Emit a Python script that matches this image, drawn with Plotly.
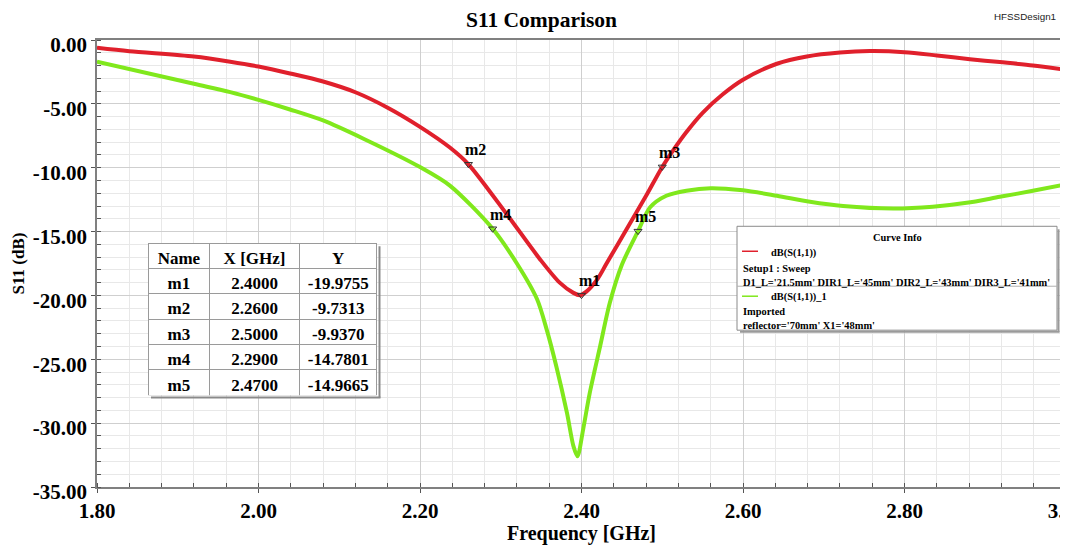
import plotly.graph_objects as go

# ---------------- data ----------------
red_freq = [1.80, 1.84, 1.92, 1.965, 2.00, 2.039, 2.08, 2.12, 2.16, 2.20, 2.237, 2.26, 2.307,
            2.349, 2.373, 2.39, 2.398, 2.406, 2.42, 2.431, 2.456, 2.48, 2.50, 2.515, 2.53,
            2.55, 2.575, 2.60, 2.642, 2.679, 2.72, 2.757, 2.80, 2.84, 2.881, 2.918, 2.959,
            3.00]
red_s11 = [-0.61, -0.88, -1.30, -1.70, -2.08, -2.62, -3.25, -4.09, -5.30, -6.80, -8.42, -9.73,
           -13.6, -17.2, -19.0, -19.8, -19.98, -19.7, -18.7, -17.5, -14.8, -12.2, -9.94, -8.5,
           -7.2, -5.7, -4.25, -3.11, -1.86, -1.29, -0.98, -0.87, -0.95, -1.21, -1.50, -1.73,
           -1.99, -2.33]

green_freq = [1.80, 1.92, 1.965, 2.00, 2.039, 2.08, 2.13, 2.20, 2.237, 2.29, 2.32, 2.345, 2.357,
              2.369, 2.382, 2.39, 2.395, 2.402, 2.41, 2.423, 2.435, 2.45, 2.47, 2.485, 2.505,
              2.53, 2.56, 2.60, 2.642, 2.683, 2.724, 2.786, 2.835, 2.877, 2.918, 2.959, 3.00]
green_s11 = [-1.69, -3.43, -4.08, -4.69, -5.44, -6.30, -7.73, -9.95, -11.4, -14.78, -17.5, -20.3,
             -22.7, -25.6, -29.2, -31.8, -32.6, -30.5, -27.7, -24.0, -20.6, -17.6, -14.97, -13.1,
             -12.2, -11.8, -11.6, -11.77, -12.2, -12.67, -13.0, -13.2, -13.06, -12.75, -12.28,
             -11.81, -11.3]

marker_names = ["m1", "m2", "m3", "m4", "m5"]
marker_x = [2.40, 2.26, 2.50, 2.29, 2.47]
marker_y = [-19.9755, -9.7313, -9.9370, -14.7801, -14.9665]
marker_x_text = ["2.4000", "2.2600", "2.5000", "2.2900", "2.4700"]
marker_y_text = ["-19.9755", "-9.7313", "-9.9370", "-14.7801", "-14.9665"]
table_header = ["Name", "X [GHz]", "Y"]

x_tickvals = [1.80, 2.00, 2.20, 2.40, 2.60, 2.80, 3.00]
x_ticktext = ["1.80", "2.00", "2.20", "2.40", "2.60", "2.80", "3.00"]
y_tickvals = [0, -5, -10, -15, -20, -25, -30, -35]
y_ticktext = ["0.00", "-5.00", "-10.00", "-15.00", "-20.00", "-25.00", "-30.00", "-35.00"]

curve1_name = "dB(S(1,1))"
curve1_info = ["Setup1 : Sweep", "D1_L='21.5mm' DIR1_L='45mm' DIR2_L='43mm' DIR3_L='41mm'"]
curve2_name = "dB(S(1,1))_1"
curve2_info = ["Imported", "reflector='70mm' X1='48mm'"]

# ---------------- layout geometry ----------------
# the page body has an 8px default margin, so the figure is drawn 8px smaller
# and every reference-pixel position is shifted by OFF
OFF = 8
W, H = 1068 - OFF, 545 - OFF
ML, MR, MT, MB = 97 - OFF, 2, 39.5 - OFF, 58
PW, PH = W - ML - MR, H - MT - MB
SERIF = "Liberation Serif"
RED = "#e0202c"
GREEN = "#80e81c"


def px(xp):
    return (xp - OFF - ML) / PW


def py(yp):
    return (H - MB - (yp - OFF)) / PH


fig = go.Figure()
fig.add_trace(go.Scatter(x=red_freq, y=red_s11, mode="lines",
                         line=dict(color=RED, width=4, shape="spline", smoothing=0.8),
                         hoverinfo="skip"))
fig.add_trace(go.Scatter(x=green_freq, y=green_s11, mode="lines",
                         line=dict(color=GREEN, width=4, shape="spline", smoothing=0.8),
                         hoverinfo="skip"))
fig.add_trace(go.Scatter(x=marker_x, y=marker_y, mode="markers",
                         marker=dict(symbol="triangle-down-open", size=7,
                                     color="#333", line=dict(width=1, color="#333")),
                         hoverinfo="skip"))

# marker table
fig.add_trace(go.Table(
    domain=dict(x=[px(148), px(378)], y=[py(396), py(243)]),
    columnwidth=[62, 90, 78],
    header=dict(values=table_header, height=25, align="center",
                fill_color="white", line=dict(color="#9a9a9a", width=1),
                font=dict(family=SERIF, size=17, color="black", weight="bold")),
    cells=dict(values=[marker_names, marker_x_text, marker_y_text], height=25.4,
               align="center", fill_color="white", line=dict(color="#9a9a9a", width=1),
               font=dict(family=SERIF, size=17, color="black", weight="bold")),
))

annotations = []
for name, mx, my in zip(marker_names, marker_x, marker_y):
    annotations.append(dict(x=mx, y=my, xref="x", yref="y", text=name, showarrow=False,
                            xanchor="left", yanchor="bottom", xshift=-5, yshift=4,
                            font=dict(family=SERIF, size=16, color="black", weight="bold")))

# Curve info box
bx0, bx1, by0, by1 = 737, 1057, 226, 330
shapes = [
    dict(type="rect", xref="paper", yref="paper", x0=px(bx0), x1=px(bx1), y0=py(by1), y1=py(by0),
         fillcolor="white", line=dict(color="#8a8a8a", width=1), layer="above"),
    dict(type="line", xref="paper", yref="paper", x0=px(bx1 + 1.5), x1=px(bx1 + 1.5),
         y0=py(by1 + 2), y1=py(by0 + 3), line=dict(color="#9a9a9a", width=2), layer="above"),
    dict(type="line", xref="paper", yref="paper", x0=px(bx0 + 3), x1=px(bx1 + 2.5),
         y0=py(by1 + 1.5), y1=py(by1 + 1.5), line=dict(color="#9a9a9a", width=2), layer="above"),
    dict(type="line", xref="paper", yref="paper", x0=px(bx0), x1=px(bx1),
         y0=py(286), y1=py(286), line=dict(color="#b0b0b0", width=1), layer="above"),
    dict(type="line", xref="paper", yref="paper", x0=px(742), x1=px(758),
         y0=py(251), y1=py(251), line=dict(color=RED, width=1.5), layer="above"),
    dict(type="line", xref="paper", yref="paper", x0=px(742), x1=px(758),
         y0=py(296), y1=py(296), line=dict(color=GREEN, width=1.5), layer="above"),
    # table shadow
    dict(type="line", xref="paper", yref="paper", x0=px(379.5), x1=px(379.5),
         y0=py(397.5), y1=py(246), line=dict(color="#8a8a8a", width=2), layer="above"),
    dict(type="line", xref="paper", yref="paper", x0=px(151), x1=px(380.5),
         y0=py(397.5), y1=py(397.5), line=dict(color="#8a8a8a", width=2), layer="above"),
]

small = dict(family=SERIF, size=10.4, color="black", weight="bold")
legend_texts = [
    ("Curve Info", (bx0 + bx1) / 2, 237, "center"),
    (curve1_name, 769, 253, "left"),
    (curve1_info[0], 741, 268, "left"),
    (curve1_info[1], 741, 282, "left"),
    (curve2_name, 769, 297, "left"),
    (curve2_info[0], 741, 311, "left"),
    (curve2_info[1], 741, 325, "left"),
]
for txt, xp, yp, anchor in legend_texts:
    annotations.append(dict(x=px(xp), y=py(yp), xref="paper", yref="paper", text=txt,
                            showarrow=False, xanchor=anchor, yanchor="middle", font=small))

annotations.append(dict(x=px(992), y=py(16), xref="paper", yref="paper", text="HFSSDesign1",
                        showarrow=False, xanchor="left", yanchor="middle",
                        font=dict(family="Liberation Sans", size=9.8, color="#222")))
annotations.append(dict(x=px(1058), y=py(14), xref="paper", yref="paper", text="A",
                        showarrow=False, xanchor="left", yanchor="middle",
                        font=dict(family="Liberation Sans", size=8.5, color="#222")))

tickfont = dict(family=SERIF, size=21, color="black", weight="bold")
fig.update_layout(
    width=W, height=H,
    margin=dict(l=ML, r=MR, t=MT, b=MB, autoexpand=False),
    paper_bgcolor="white", plot_bgcolor="white",
    showlegend=False,
    title=dict(text="S11 Comparison", x=(541.5 - OFF) / W, xanchor="center", xref="container",
               y=1 - (19 - OFF) / H, yanchor="middle", yref="container",
               font=dict(family=SERIF, size=21.5, color="black", weight="bold")),
    xaxis=dict(range=[1.8, 3.0], tickmode="array", tickvals=x_tickvals, ticktext=x_ticktext,
               showgrid=True, gridcolor="#cfcfcf", gridwidth=1,
               minor=dict(tickmode="linear", tick0=1.8, dtick=0.04, showgrid=True,
                          gridcolor="#e8e8e8", gridwidth=1, ticks="inside", ticklen=4,
                          tickcolor="#555"),
               ticks="outside", ticklen=4, tickcolor="#555", ticklabeloverflow="allow",
               showline=True, linecolor="#808080", linewidth=1.5, mirror=True, zeroline=False,
               tickfont=tickfont,
               title=dict(text="Frequency [GHz]", standoff=4,
                          font=dict(family=SERIF, size=20, color="black", weight="bold"))),
    yaxis=dict(range=[-35, 0], tickmode="array", tickvals=y_tickvals, ticktext=y_ticktext,
               showgrid=True, gridcolor="#cfcfcf", gridwidth=1,
               minor=dict(tickmode="linear", tick0=0, dtick=1, showgrid=True,
                          gridcolor="#e8e8e8", gridwidth=1, ticks="inside", ticklen=4,
                          tickcolor="#555"),
               ticks="outside", ticklen=4, tickcolor="#555", ticklabeloverflow="allow",
               showline=True, linecolor="#808080", linewidth=1.5, mirror=True, zeroline=False,
               tickfont=tickfont, ticklabelshift=5,
               title=dict(text="S11 (dB)", standoff=4,
                          font=dict(family=SERIF, size=17, color="black", weight="bold"))),
    annotations=annotations,
    shapes=shapes,
)

fig.write_html("out.html")
